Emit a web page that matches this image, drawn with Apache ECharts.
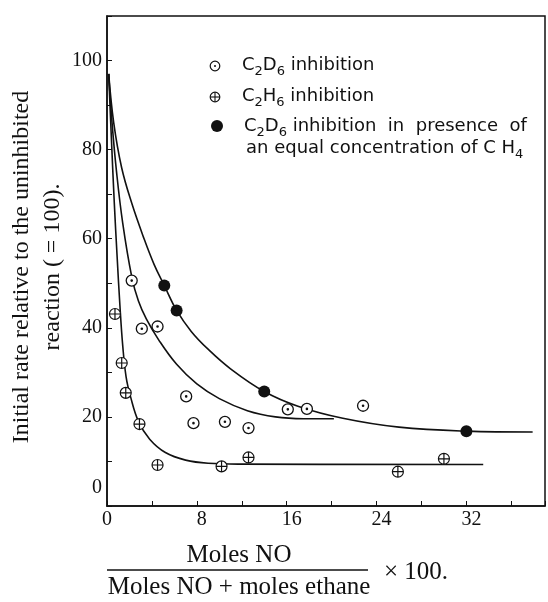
<!DOCTYPE html>
<html><head><meta charset="utf-8">
<script src="https://cdn.jsdelivr.net/npm/echarts@6/dist/echarts.min.js"></script>
<style>html,body{margin:0;padding:0;background:#fff}#c{width:548px;height:602px}</style>
</head><body><div id="c"></div>
<script>
// ---- data ----
const xTickLabels = [0, 8, 16, 24, 32];
const yTickLabels = [0, 20, 40, 60, 80, 100];
const c2d6Open = [[2.2,50.6],[3.1,39.8],[4.5,40.3],[7.05,24.6],[7.7,18.6],[10.5,18.9],[12.6,17.5],[16.1,21.7],[17.8,21.8],[22.8,22.5]];
const c2h6 = [[0.71,43.1],[1.31,32.1],[1.67,25.4],[2.89,18.4],[4.5,9.2],[10.2,8.9],[12.6,10.9],[25.9,7.7],[30.0,10.6]];
const c2d6CH4 = [[5.1,49.5],[6.2,43.9],[14.0,25.7],[32.0,16.8]];
const curveOuter = [[0.15,97],[0.6,86],[1.3,76],[2.2,68],[3.3,60],[4.2,54.2],[5.1,49.5],[6.2,43.9],[7.5,39.2],[9,35.2],[11,30.8],[14,25.7],[17,22.4],[21,19.7],[26,17.7],[32,16.8],[37.9,16.6]];
const curveMiddle = [[0.15,97],[0.45,86],[0.85,75],[1.4,63.5],[2.2,51.5],[2.8,46],[3.5,42],[4.6,37.3],[6.2,31.8],[8,27.4],[10,24.1],[12.5,21.4],[15,20],[17.5,19.6],[20.2,19.6]];
const curveInner = [[0.15,97],[0.4,82],[0.65,68],[0.9,56],[1.15,45],[1.4,36],[1.7,29],[2.1,24.5],[2.8,19],[3.8,15],[5.2,12],[7,10.3],[9,9.6],[12,9.4],[33.5,9.3]];

const INK = '#111';
const SERIF = '"Liberation Serif", "DejaVu Serif", serif';
const SANS = '"DejaVu Sans", sans-serif';
const OPEN_SYM = 'path://M0 -10A10 10 0 1 1 0 10A10 10 0 1 1 0 -10ZM0 -1.2A1.2 1.2 0 1 1 0 1.2A1.2 1.2 0 1 1 0 -1.2Z';
const PLUS_SYM = 'path://M0 -10A10 10 0 1 1 0 10A10 10 0 1 1 0 -10ZM-10 0L10 0M0 -10L0 10';

const subRich = {
  b: { fontSize: 18, fontFamily: SANS, color: INK, lineHeight: 26 },
  s: { fontSize: 13, fontFamily: SANS, color: INK, lineHeight: 13, verticalAlign: 'bottom' }
};
function legendText(x, y, text) {
  return { type: 'text', x: x, y: y, silent: true,
    style: { text: text, rich: subRich, fill: INK, align: 'left', textAlign: 'left', verticalAlign: 'middle', textVerticalAlign: 'middle' } };
}
function serifText(x, y, text, size, align, rot) {
  return { type: 'text', x: x, y: y, rotation: rot || 0, silent: true,
    style: { text: text, font: size + 'px ' + SERIF, fill: INK, align: align, textAlign: align, verticalAlign: 'middle', textVerticalAlign: 'middle' } };
}
const curveStyle = { color: INK, width: 1.6 };

const chart = echarts.init(document.getElementById('c'), null, { renderer: 'canvas' });
chart.setOption({
  animation: false,
  backgroundColor: '#fff',
  grid: { left: 107, right: 3, top: 16, bottom: 96, show: true, borderColor: INK, borderWidth: 1.5 },
  xAxis: {
    type: 'value', min: 0, max: 39, interval: 4,
    axisLine: { lineStyle: { color: INK, width: 1.5 } },
    axisTick: { inside: true, length: 5, lineStyle: { color: INK } },
    splitLine: { show: false },
    axisLabel: {
      margin: 4, color: INK, fontSize: 20, fontFamily: SERIF,
      formatter: v => v === 0 ? '0' : (xTickLabels.includes(v) ? '{r|' + v + '}' : ''),
      rich: { r: { fontSize: 20, fontFamily: SERIF, color: INK, padding: [0, 0, 0, 10] } }
    }
  },
  yAxis: {
    type: 'value', min: 0, max: 110, interval: 10,
    axisLine: { lineStyle: { color: INK, width: 1.5 } },
    axisTick: { inside: true, length: 5, lineStyle: { color: INK } },
    splitLine: { show: false },
    axisLabel: {
      margin: 5, color: INK, fontSize: 20, fontFamily: SERIF,
      formatter: v => v === 0 ? '{z|0}' : (yTickLabels.includes(v) ? String(v) : ''),
      rich: { z: { fontSize: 20, fontFamily: SERIF, color: INK, padding: [0, 0, 36, 0] } }
    }
  },
  series: [
    { type: 'line', data: curveOuter, smooth: 0.4, showSymbol: false, lineStyle: curveStyle, silent: true },
    { type: 'line', data: curveMiddle, smooth: 0.4, showSymbol: false, lineStyle: curveStyle, silent: true },
    { type: 'line', data: curveInner, smooth: 0.4, showSymbol: false, lineStyle: curveStyle, silent: true },
    { name: 'C2D6 inhibition', type: 'scatter', data: c2d6Open, symbol: OPEN_SYM, symbolSize: 11,
      itemStyle: { color: '#fff', borderColor: INK, borderWidth: 1.3, opacity: 1 }, z: 5 },
    { name: 'C2H6 inhibition', type: 'scatter', data: c2h6, symbol: PLUS_SYM, symbolSize: 11,
      itemStyle: { color: '#fff', borderColor: INK, borderWidth: 1.2, opacity: 1 }, z: 5 },
    { name: 'C2D6 inhibition with CH4', type: 'scatter', data: c2d6CH4, symbol: 'circle', symbolSize: 12,
      itemStyle: { color: INK, opacity: 1 }, z: 5 }
  ],
  graphic: [
    // legend symbols
    { type: 'circle', shape: { cx: 215, cy: 66, r: 4.8 }, style: { fill: '#fff', stroke: INK, lineWidth: 1.2 } },
    { type: 'circle', shape: { cx: 215, cy: 66, r: 1 }, style: { fill: INK } },
    { type: 'circle', shape: { cx: 215, cy: 97, r: 4.8 }, style: { fill: '#fff', stroke: INK, lineWidth: 1.2 } },
    { type: 'line', shape: { x1: 210.2, y1: 97, x2: 219.8, y2: 97 }, style: { stroke: INK, lineWidth: 1.1 } },
    { type: 'line', shape: { x1: 215, y1: 92.2, x2: 215, y2: 101.8 }, style: { stroke: INK, lineWidth: 1.1 } },
    { type: 'circle', shape: { cx: 217, cy: 126, r: 6 }, style: { fill: INK } },
    legendText(242, 65, '{b|C}{s|2}{b|D}{s|6}{b| inhibition}'),
    legendText(242, 96, '{b|C}{s|2}{b|H}{s|6}{b| inhibition}'),
    legendText(244, 126, '{b|C}{s|2}{b|D}{s|6}{b| inhibition  in  presence  of}'),
    legendText(246, 148, '{b|an equal concentration of C H}{s|4}'),
    // y-axis title
    serifText(22, 267, 'Initial rate relative to the uninhibited', 24, 'center', Math.PI / 2),
    serifText(53, 267, 'reaction ( = 100).', 24, 'center', Math.PI / 2),
    // x-axis title (fraction)
    serifText(239, 555, 'Moles NO', 25, 'center'),
    { type: 'line', shape: { x1: 107, y1: 570, x2: 368, y2: 570 }, style: { stroke: INK, lineWidth: 1.3 } },
    serifText(239, 587, 'Moles NO + moles ethane', 25, 'center'),
    serifText(384, 572, '\u00d7 100.', 25, 'left')
  ]
});
</script>
</body></html>
